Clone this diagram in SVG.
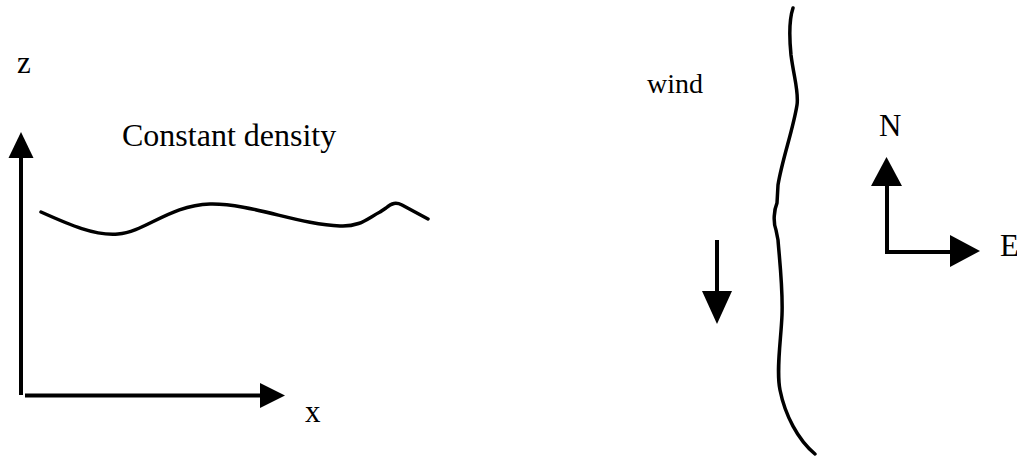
<svg xmlns="http://www.w3.org/2000/svg" width="1017" height="459" viewBox="0 0 1017 459">
<style>
.t{font-family:"Liberation Serif",Tinos,"Noto Serif","DejaVu Serif",serif;font-size:31px;fill:#000}
.c{font-size:32px}
.w{font-size:28px}
.ln{stroke:#000;stroke-width:4;fill:none}
.cv{stroke:#000;stroke-width:3.5;fill:none;stroke-linecap:round;stroke-linejoin:round}
.ah{fill:#000}
</style>
<rect width="1017" height="459" fill="#fff"/>
<g id="axis-z">
<line class="ln" x1="21" y1="395" x2="21" y2="157"/>
<polygon class="ah" points="21,132 8.5,158 33.5,158"/>
<text class="t" x="17" y="73">z</text>
</g>
<g id="axis-x">
<line class="ln" x1="25" y1="395.5" x2="261" y2="395.5"/>
<polygon class="ah" points="285,395.5 260,383 260,408"/>
<text class="t" x="305" y="422">x</text>
</g>
<g id="constant-density">
<text class="t c" x="122" y="146">Constant density</text>
<path class="cv" d="M41,212 C70,225 95,236 118,234 C145,232 170,205 210,204 C250,203 300,225 340,226 C360,227 368,218 380,212 L386,208 C392,203 396,202 402,205 L428,219"/>
</g>
<g id="front">
<path class="cv" d="M793,8 C789,20 789,35 791,55 C794,78 799,92 797,105 C793,130 782,160 778,185 L777,203 C774,210 773,222 776,230 L778,240 C780,265 783,290 782,315 C781,340 776,370 780,390 C785,415 798,440 815,454"/>
</g>
<g id="wind">
<text class="t w" x="647" y="93">wind</text>
<line class="ln" x1="717" y1="240" x2="717" y2="292"/>
<polygon class="ah" points="717,324 702,291 732,291"/>
</g>
<g id="compass">
<line class="ln" x1="887" y1="184" x2="887" y2="252"/>
<line class="ln" x1="885" y1="252" x2="951" y2="252"/>
<polygon class="ah" points="886.5,157 871,186 902,186"/>
<polygon class="ah" points="980,251 950,235 950,267"/>
<text class="t" x="879" y="136">N</text>
<text class="t" x="1000" y="256">E</text>
</g>
</svg>
